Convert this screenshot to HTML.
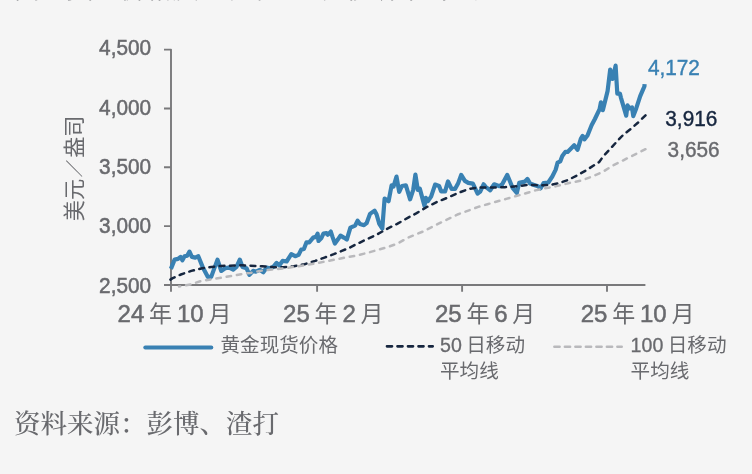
<!DOCTYPE html>
<html lang="zh-CN">
<head>
<meta charset="utf-8">
<title>黄金现货价格</title>
<style>
html,body{margin:0;padding:0;background:#f5f5f5;}
body{width:752px;height:474px;overflow:hidden;position:relative;}
svg{position:absolute;left:0;top:0;display:block;}
.ax{font-family:"Liberation Sans","Noto Sans CJK SC",sans-serif;fill:#696a6e;}
.n{stroke:#696a6e;stroke-width:0.5px;}
.lg .n{stroke-width:0.3px;}
.xl .n{font-size:24px;}
.src{font-family:"Liberation Serif","Noto Serif CJK SC",serif;fill:#696a6e;}
</style>
</head>
<body>
<svg width="752" height="474" viewBox="0 0 752 474">
<rect x="0" y="0" width="752" height="474" fill="#f5f5f5"/>
<!-- cropped title -->
<text class="src" x="14" y="-1.7" font-size="26.5" font-weight="500">图：黄金价格及50日和100日移动平均线</text>
<!-- axes -->
<g stroke="#79797b" stroke-width="1.9" fill="none" stroke-linejoin="round">
<path d="M164,49.6 H171 V291.7"/>
<path d="M164,285 H645.4"/>
<path d="M164,108.45 H171 M164,167.3 H171 M164,226.15 H171"/>
<path d="M317.1,285 V291.7 M462.1,285 V291.7 M607,285 V291.7"/>
</g>
<!-- y labels -->
<g class="ax n" font-size="20.8" text-anchor="end">
<text transform="translate(151.1,55.4) scale(1,1.055)">4,500</text>
<text transform="translate(151.1,114.7) scale(1,1.055)">4,000</text>
<text transform="translate(151.1,174.0) scale(1,1.055)">3,500</text>
<text transform="translate(151.1,233.3) scale(1,1.055)">3,000</text>
<text transform="translate(151.1,292.7) scale(1,1.055)">2,500</text>
</g>
<text class="ax" font-size="21.1" text-anchor="middle" transform="translate(82.4,168.4) rotate(-90)">美元<tspan font-size="17.5" dx="1.8" dy="-1.3">／</tspan><tspan dx="1.8" dy="1.3">盎司</tspan></text>
<!-- x labels -->
<g class="ax xl" font-size="23" word-spacing="-1.6">
<text x="117.6" y="322"><tspan class="n">24</tspan> 年 <tspan class="n">10</tspan> 月</text>
<text x="283.1" y="322"><tspan class="n">25</tspan> 年 <tspan class="n">2</tspan> 月</text>
<text x="434.9" y="322"><tspan class="n">25</tspan> 年 <tspan class="n">6</tspan> 月</text>
<text x="580.7" y="322"><tspan class="n">25</tspan> 年 <tspan class="n">10</tspan> 月</text>
</g>
<!-- series -->
<polyline points="170.9,268.9 174.6,259.6 178.0,258.9 180.6,256.9 182.4,260.3 184.6,256.3 187.3,255.6 189.5,251.6 191.9,256.9 195.3,257.6 198.3,256.3 202.6,266.9 207.9,276.9 211.2,276.9 217.5,259.6 221.2,270.9 225.2,268.2 229.2,267.6 233.2,269.6 236.5,266.9 239.8,259.6 242.5,266.9 246.5,268.2 249.4,274.9 253.1,270.9 255.8,271.6 259.8,269.8 263.3,272.2 266.7,267.5 269.3,268.2 273.3,266.9 276.6,262.9 279.3,265.5 282.6,260.9 286.6,261.5 291.3,254.2 295.2,256.2 298.6,254.9 301.2,249.6 303.9,248.9 306.5,242.3 309.2,242.3 313.2,237.6 315.9,236.9 317.6,233.6 318.5,240.9 321.2,238.3 323.4,233.6 326.5,233.0 327.8,234.7 330.8,231.6 332.5,236.9 334.9,243.6 337.8,239.6 340.5,235.6 343.8,237.6 346.8,239.6 350.4,227.6 355.1,225.6 357.6,220.7 360.0,223.9 364.0,225.2 366.6,223.2 370.0,213.9 374.6,210.6 376.6,214.5 379.3,223.9 382.3,228.5 384.6,198.6 388.6,201.2 391.6,185.3 393.5,186.6 396.5,176.6 399.2,191.9 401.9,186.0 405.9,185.3 410.1,199.3 413.2,189.9 415.4,174.6 417.8,189.9 419.8,188.6 424.5,205.9 425.8,197.9 427.8,201.2 431.1,196.6 435.1,184.6 439.1,186.0 441.1,191.3 445.1,191.3 448.0,181.4 451.6,188.9 455.0,188.9 458.3,182.9 461.2,174.9 464.9,180.9 468.3,182.9 472.9,183.6 477.6,193.6 480.2,191.6 483.6,184.3 485.6,186.9 490.2,190.2 494.2,184.3 499.5,186.2 502.2,184.3 507.2,174.9 509.5,180.3 512.8,188.2 516.8,192.9 519.2,182.9 524.8,181.6 527.4,178.9 530.1,183.6 534.1,184.9 538.1,186.2 540.5,188.4 543.6,183.2 548.3,182.5 552.3,176.5 555.6,169.9 557.6,162.6 560.3,161.3 562.3,155.9 565.3,151.9 567.6,151.9 574.2,145.3 577.5,149.9 580.9,138.6 582.6,136.0 584.4,139.3 587.5,135.5 591.6,125.3 594.9,119.0 599.6,109.1 600.9,102.4 602.9,110.1 607.6,90.9 610.2,69.6 612.6,78.9 615.6,65.6 617.3,93.6 619.9,93.6 620.9,97.6 626.2,115.7 627.5,105.4 629.6,108.4 632.0,107.4 633.3,116.1 636.2,108.4 640.2,96.2 643.2,89.2 644.4,86.5 644.6,84.1" fill="none" stroke="#3981b3" stroke-width="4.2" stroke-linecap="butt" stroke-linejoin="round"/>
<polyline points="645.5,115.3 638.8,121.9 630.8,128.9 622.9,135.2 616.8,141.6 609.5,149.6 603.6,155.9 599.2,162.0 594.8,164.8 586.9,169.9 577.6,175.2 568.2,179.9 558.9,183.2 551.0,184.8 544.1,185.3 527.4,184.9 518.1,186.2 504.8,187.2 491.5,187.6 478.2,187.6 468.9,188.9 458.3,192.9 446.3,198.2 437.1,201.9 426.5,207.2 416.2,213.4 408.2,217.6 397.6,223.6 386.9,228.9 376.3,234.9 365.6,239.8 355.0,244.9 349.8,247.6 341.8,250.9 333.8,254.2 324.5,257.6 315.2,260.9 304.6,264.2 293.9,266.2 283.3,267.3 272.6,267.1 262.0,266.2 242.5,265.3 221.2,265.9 211.2,267.1 202.2,268.2 191.3,270.9 180.9,274.5 172.7,278.1 170.4,279.6" fill="none" stroke="#16263f" stroke-width="2.5" stroke-dasharray="4.8 5.504" stroke-linecap="round" stroke-linejoin="round"/>
<polyline points="645.5,149.2 637.5,153.2 628.2,157.8 621.4,161.3 612.1,165.9 602.8,171.9 592.2,176.5 581.5,180.5 568.2,183.2 554.9,186.5 544.3,188.5 535.4,190.4 524.8,193.6 515.5,196.2 506.2,198.9 496.9,201.5 487.6,204.2 478.2,206.9 467.6,210.9 458.3,214.2 451.0,217.7 441.4,222.3 432.1,226.9 422.8,231.6 414.8,234.9 406.9,238.2 397.6,243.6 388.2,246.9 378.9,249.5 368.3,252.6 357.0,255.5 341.8,258.2 328.5,260.9 315.2,263.5 304.6,265.3 293.9,266.9 283.3,268.5 272.6,269.5 262.0,270.6 250.4,272.9 241.1,274.2 221.2,277.8 201.2,280.9 190.6,284.5 181.3,286.2 179.0,286.6" fill="none" stroke="#b9b9bc" stroke-width="2.5" stroke-dasharray="4.5 5.9" stroke-linecap="round" stroke-linejoin="round"/>
<!-- end labels -->
<g font-family="'Liberation Sans',sans-serif" font-size="20.8" stroke-width="0.4">
<text transform="translate(647.9,74.8) scale(1,1.05)" fill="#3981b3" stroke="#3981b3">4,172</text>
<text transform="translate(665.3,125.8) scale(1,1.05)" fill="#16263f" stroke="#16263f">3,916</text>
<text transform="translate(667.6,156.5) scale(1,1.05)" fill="#696a6e" stroke="#696a6e">3,656</text>
</g>
<!-- legend -->
<path d="M145.3,347.4 H211.3" stroke="#3981b3" stroke-width="4" stroke-linecap="round"/>
<path d="M387,346.3 H432.7" stroke="#16263f" stroke-width="2.7" stroke-dasharray="5 5.5" stroke-linecap="round"/>
<path d="M554.4,346.7 H621.7" stroke="#b9b9bc" stroke-width="2.6" stroke-dasharray="5.2 5.3" stroke-linecap="round"/>
<g class="ax lg" font-size="19.6" word-spacing="-1">
<text x="220.5" y="351.8">黄金现货价格</text>
<text x="440" y="351.6"><tspan class="n">50</tspan> 日移动</text>
<text x="440" y="377.6">平均线</text>
<text x="630.6" y="351.6"><tspan class="n">100</tspan> 日移动</text>
<text x="630.6" y="377.6">平均线</text>
</g>
<!-- source -->
<text class="src" x="14" y="432.5" font-size="26.5" font-weight="500">资料来源：彭博、渣打</text>
</svg>
</body>
</html>
